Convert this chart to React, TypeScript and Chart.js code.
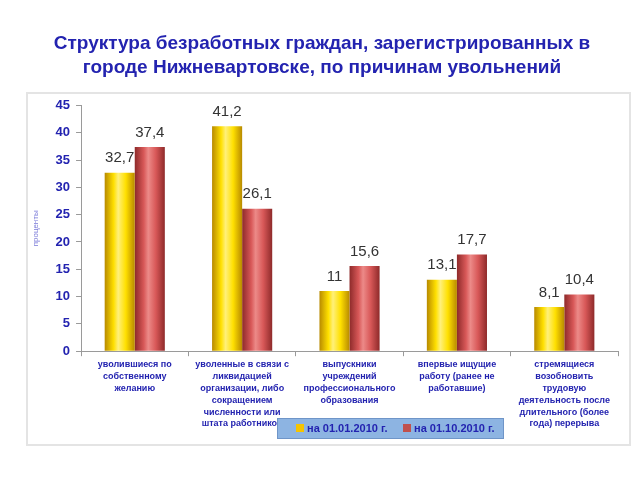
import React, { useEffect, useRef } from "react";
import { Chart, registerables } from "chart.js";

Chart.register(...registerables);

const categories: string[][] = [
  ["уволившиеся по", "собственному", "желанию"],
  ["уволенные в связи с", "ликвидацией", "организации, либо", "сокращением", "численности или", "штата работников"],
  ["выпускники", "учреждений", "профессионального", "образования"],
  ["впервые ищущие", "работу (ранее не", "работавшие)"],
  ["стремящиеся", "возобновить", "трудовую", "деятельность после", "длительного (более", "года) перерыва"],
];
const seriesNames = ["на 01.01.2010 г.", "на 01.10.2010 г."];
const values2010Jan = [32.7, 41.2, 11, 13.1, 8.1];
const values2010Oct = [37.4, 26.1, 15.6, 17.7, 10.4];
const yTicks = [0, 5, 10, 15, 20, 25, 30, 35, 40, 45];

const TITLE = ["Структура безработных граждан, зарегистрированных в", "городе Нижневартовске, по причинам увольнений"];
const BLUE = "#2323b0";
const CAT_PCT = 0.56;

const palettes = [
  { solid: "#f5c400", edge: "#b88a00", mid: "#ffe000", hi: "#fff07a" },
  { solid: "#c0504d", edge: "#8e2a2a", mid: "#d85858", hi: "#ec8a88" },
];

function barGradient(ctx: any, dsIndex: number) {
  const chart = ctx.chart;
  const pal = palettes[dsIndex];
  const xs = chart.scales?.x;
  if (!xs || ctx.dataIndex === undefined) return pal.solid;
  const catW = xs.width / categories.length;
  const barW = (catW * CAT_PCT) / 2;
  const center = xs.getPixelForValue(ctx.dataIndex);
  const left = center - barW + dsIndex * barW;
  if (!isFinite(left) || !isFinite(barW) || barW <= 0) return pal.solid;
  const g = chart.ctx.createLinearGradient(left, 0, left + barW, 0);
  g.addColorStop(0, pal.edge);
  g.addColorStop(0.3, pal.mid);
  g.addColorStop(0.45, pal.hi);
  g.addColorStop(0.7, pal.mid);
  g.addColorStop(1, pal.edge);
  return g;
}

const framePlugin = {
  id: "frame",
  beforeDraw(chart: any) {
    const c = chart.ctx;
    c.save();
    c.fillStyle = "#ffffff";
    c.fillRect(0, 0, chart.width, chart.height);
    c.strokeStyle = "#e4e4e4";
    c.lineWidth = 2;
    c.strokeRect(27, 93, 603, 352);
    c.restore();
  },
};

const labelPlugin = {
  id: "valueLabels",
  afterDatasetsDraw(chart: any) {
    const c = chart.ctx;
    c.save();
    c.font = "15px 'Liberation Sans', Arial, sans-serif";
    c.fillStyle = "#333333";
    c.textAlign = "center";
    c.textBaseline = "bottom";
    chart.data.datasets.forEach((ds: any, di: number) => {
      const meta = chart.getDatasetMeta(di);
      meta.data.forEach((el: any, i: number) => {
        const v = ds.data[i];
        c.fillText(String(v).replace(".", ","), el.x, el.y - 7);
      });
    });
    c.restore();
  },
};

const legendPlugin = {
  id: "boxLegend",
  afterDraw(chart: any) {
    const c = chart.ctx;
    c.save();
    const x = 277, y = 418, w = 226, h = 20;
    c.fillStyle = "#8db4e2";
    c.fillRect(x, y, w, h);
    c.strokeStyle = "#6f95c8";
    c.lineWidth = 1;
    c.strokeRect(x + 0.5, y + 0.5, w, h);
    c.font = "bold 11px 'Liberation Sans', Arial, sans-serif";
    c.textBaseline = "middle";
    c.textAlign = "left";
    const starts = [296, 403];
    chart.data.datasets.forEach((ds: any, di: number) => {
      const sx = starts[di];
      c.fillStyle = palettes[di].solid;
      c.fillRect(sx, y + 6, 8, 8);
      c.fillStyle = BLUE;
      c.fillText(ds.label, sx + 11, y + h / 2 + 1);
    });
    c.restore();
  },
};

export default function App() {
  const ref = useRef<HTMLCanvasElement | null>(null);
  useEffect(() => {
    if (!ref.current) return;
    const chart = new Chart(ref.current, {
      type: "bar",
      data: {
        labels: categories,
        datasets: [
          {
            label: seriesNames[0],
            data: values2010Jan,
            backgroundColor: (ctx: any) => barGradient(ctx, 0),
            borderWidth: 0,
          },
          {
            label: seriesNames[1],
            data: values2010Oct,
            backgroundColor: (ctx: any) => barGradient(ctx, 1),
            borderWidth: 0,
          },
        ],
      },
      options: {
        responsive: false,
        animation: false,
        devicePixelRatio: 1,
        layout: { padding: { left: 26, right: 22, top: 0, bottom: 48 } },
        datasets: { bar: { barPercentage: 1, categoryPercentage: CAT_PCT } },
        plugins: {
          legend: { display: false },
          tooltip: { enabled: false },
          title: {
            display: true,
            text: TITLE,
            color: BLUE,
            font: { family: "'Liberation Sans', Arial, sans-serif", size: 19, weight: "bold", lineHeight: 1.25 },
            padding: { top: 32, bottom: 26 },
          },
        },
        scales: {
          x: {
            grid: { drawOnChartArea: false, color: "#9a9a9a", tickLength: 5, offset: true },
            border: { color: "#9a9a9a" },
            ticks: {
              color: BLUE,
              font: { family: "'Liberation Sans', Arial, sans-serif", size: 9, weight: "bold", lineHeight: 1.33 },
              maxRotation: 0,
              autoSkip: false,
              padding: 2,
            },
          },
          y: {
            min: 0,
            max: 45,
            afterBuildTicks: (axis: any) => {
              axis.ticks = yTicks.map((v) => ({ value: v }));
            },
            grid: { drawOnChartArea: false, color: "#9a9a9a", tickLength: 5 },
            border: { color: "#9a9a9a" },
            ticks: {
              color: BLUE,
              font: { family: "'Liberation Sans', Arial, sans-serif", size: 13, weight: "bold" },
              padding: 6,
            },
            title: {
              display: true,
              text: "проценты",
              color: "#7a7ad8",
              font: { family: "'Liberation Sans', Arial, sans-serif", size: 8 },
              padding: { top: 5, bottom: 9 },
            },
          },
        },
      },
      plugins: [framePlugin, labelPlugin, legendPlugin],
    } as any);
    return () => chart.destroy();
  }, []);
  return (
    <div style={{ position: "absolute", left: 0, top: 0, width: 640, height: 480, background: "#fff" }}>
      <canvas ref={ref} width={640} height={480} style={{ display: "block", width: 640, height: 480 }} />
    </div>
  );
}
